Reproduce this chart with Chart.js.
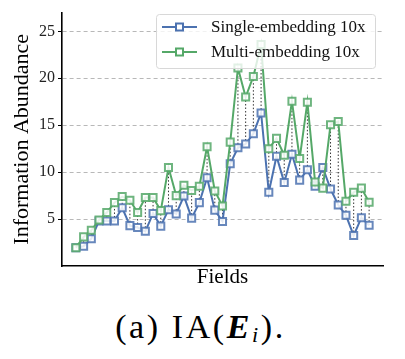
<!DOCTYPE html>
<html>
<head>
<meta charset="utf-8">
<script src="https://cdn.jsdelivr.net/npm/chart.js@4/dist/chart.umd.min.js"></script>
<style>
  body { margin: 0; background: #fff; }
  #wrap { width: 405px; height: 290px; position: relative; }
  #caption { width: 405px; text-align: center; font-family: "Liberation Serif", serif; font-size: 34px; letter-spacing: 2.6px; margin-top: 18px; color: #000; padding-right: 4px; box-sizing: border-box; }
  #caption b { font-style: italic; }
  #caption sub { font-style: italic; font-size: 22px; vertical-align: -4px; }
</style>
</head>
<body>
<div id="wrap"><canvas id="iaChart" width="405" height="290"></canvas></div>
<div id="caption">(a) IA(<b>E</b><sub>i</sub>).</div>
<script>
// values, one per field
const seriesNames = ['Single-embedding 10x', 'Multi-embedding 10x'];
const singleEmb = [1.95, 2.1, 2.9, 4.8, 4.8, 4.8, 6.2, 4.3, 4.1, 3.7,
  5.6, 4.25, 6.0, 5.55, 7.45, 5.1, 6.75, 9.4, 5.95, 4.75,
  10.9, 12.6, 13.0, 14.1, 16.3, 7.85, 11.7, 8.9, 11.9, 9.15,
  10.25, 8.5, 10.5, 8.2, 6.5, 5.4, 3.25, 5.15, 4.35];
const multiEmb = [1.95, 3.1, 3.8, 4.9, 5.7, 6.75, 7.4, 7.0, 5.7, 7.3,
  7.3, 5.9, 10.5, 7.5, 8.6, 8.05, 8.5, 12.7, 8.0, 6.4,
  13.2, 21.1, 18.0, 20.2, 23.6, 12.5, 13.6, 11.8, 17.55, 11.45,
  17.45, 8.95, 8.3, 15.05, 15.4, 6.9, 7.85, 8.3, 6.8];
const yTicks = [5, 10, 15, 20, 25];

const BLUE = 'rgb(76,114,176)';
const GREEN = 'rgb(85,168,104)';
const FONT = '"Liberation Serif", "Times New Roman", serif';

const toPoints = arr => arr.map((v, i) => ({ x: i, y: v }));

// dotted connectors between the two series at every field
const connectors = {
  id: 'connectors',
  beforeDatasetsDraw(chart) {
    const { ctx, scales: { x, y } } = chart;
    ctx.save();
    ctx.strokeStyle = '#333';
    ctx.lineWidth = 1;
    ctx.setLineDash([1.5, 2]);
    for (let i = 0; i < singleEmb.length; i++) {
      const px = x.getPixelForValue(i);
      ctx.beginPath();
      ctx.moveTo(px, y.getPixelForValue(singleEmb[i]));
      ctx.lineTo(px, y.getPixelForValue(multiEmb[i]));
      ctx.stroke();
    }
    ctx.restore();
  }
};

// matplotlib-like legend box (line + marker + label)
const boxLegend = {
  id: 'boxLegend',
  afterDraw(chart) {
    const ctx = chart.ctx;
    const colors = [BLUE, GREEN];
    const bx = 156, by = 14, bw = 219, bh = 54;
    ctx.save();
    ctx.fillStyle = 'rgba(255,255,255,0.8)';
    ctx.strokeStyle = '#d8d8d8';
    ctx.lineWidth = 1;
    ctx.beginPath();
    ctx.roundRect(bx + 0.5, by + 0.5, bw, bh, 3);
    ctx.fill();
    ctx.stroke();
    ctx.font = '17px ' + FONT;
    ctx.textBaseline = 'middle';
    seriesNames.forEach((name, k) => {
      const cy = 27 + k * 25;
      ctx.strokeStyle = colors[k];
      ctx.lineWidth = 2;
      ctx.beginPath();
      ctx.moveTo(162, cy);
      ctx.lineTo(197, cy);
      ctx.stroke();
      ctx.fillStyle = 'white';
      ctx.fillRect(176, cy - 3.5, 7, 7);
      ctx.strokeRect(176, cy - 3.5, 7, 7);
      ctx.fillStyle = '#111';
      ctx.fillText(name, 211, cy + 1);
    });
    ctx.restore();
  }
};

new Chart(document.getElementById('iaChart'), {
  type: 'line',
  data: {
    datasets: [
      {
        label: seriesNames[0],
        data: toPoints(singleEmb),
        borderColor: BLUE,
        borderWidth: 2,
        pointStyle: 'rect',
        pointRadius: 5,
        pointBorderWidth: 2,
        pointBorderColor: 'rgba(76,114,176,0.85)',
        pointBackgroundColor: 'rgba(255,255,255,0.85)',
        order: 2
      },
      {
        label: seriesNames[1],
        data: toPoints(multiEmb),
        borderColor: GREEN,
        borderWidth: 2,
        pointStyle: 'rect',
        pointRadius: 5,
        pointBorderWidth: 2,
        pointBorderColor: 'rgba(85,168,104,0.85)',
        pointBackgroundColor: 'rgba(255,255,255,0.85)',
        order: 1
      }
    ]
  },
  options: {
    responsive: false,
    animation: false,
    layout: { padding: { top: 5, right: 22, left: 0, bottom: 0 } },
    plugins: { legend: { display: false }, tooltip: { enabled: false } },
    scales: {
      x: {
        type: 'linear',
        min: -1.8,
        max: singleEmb.length - 1 + 1.8,
        grid: { display: false, drawTicks: false },
        border: { color: '#000', width: 1.6 },
        ticks: { display: false },
        title: { display: true, text: 'Fields', color: '#000', font: { family: FONT, size: 21 }, padding: { top: 2, bottom: 0 } },
        afterFit(scale) { scale.height = 24; }
      },
      y: {
        min: 0,
        max: 27,
        afterBuildTicks(scale) { scale.ticks = yTicks.map(v => ({ value: v })); },
        grid: { color: '#b8b8b8', lineWidth: 1, tickLength: 4, tickColor: '#000', tickBorderDash: [] },
        border: { color: '#000', width: 1.6, dash: [4, 3] },
        ticks: { color: '#222', font: { family: FONT, size: 16 }, padding: 3 },
        title: { display: true, text: 'Information Abundance', color: '#000', font: { family: FONT, size: 22 }, padding: { top: 9, bottom: 4 } },
        afterFit(scale) { scale.width = 62; }
      }
    }
  },
  plugins: [connectors, boxLegend]
});
</script>
</body>
</html>
